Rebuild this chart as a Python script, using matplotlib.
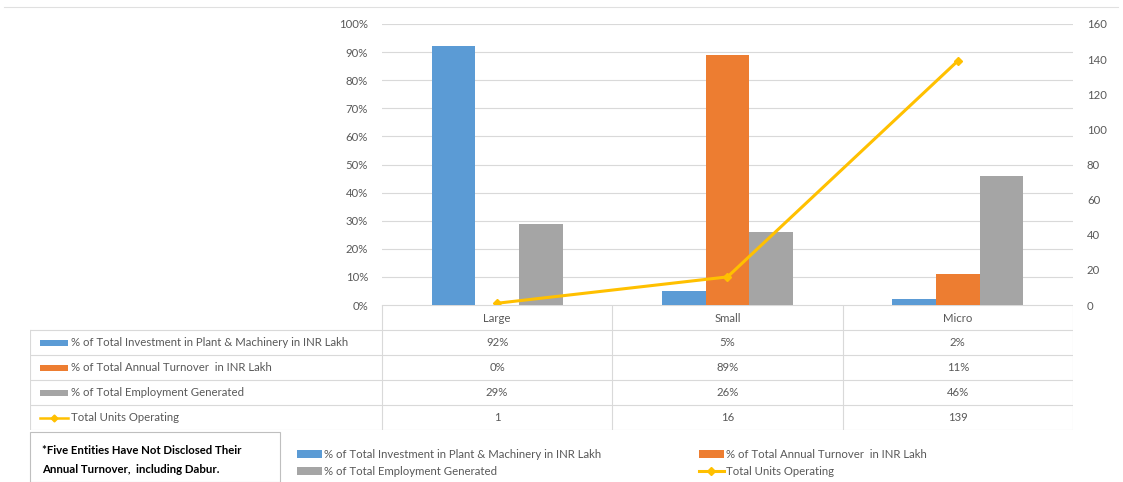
import numpy as np
import matplotlib
matplotlib.use("Agg")
import matplotlib.pyplot as plt
from matplotlib.lines import Line2D
from matplotlib.patches import Rectangle

plt.rcParams['font.family'] = ['Lato', 'DejaVu Sans']

categories = ['Large', 'Small', 'Micro']
investment = [92, 5, 2]
turnover = [0, 89, 11]
employment = [29, 26, 46]
units = [1, 16, 139]

series_names = ['% of Total Investment in Plant & Machinery in INR Lakh',
                '% of Total Annual Turnover  in INR Lakh',
                '% of Total Employment Generated',
                'Total Units Operating']
colors = ['#5B9BD5', '#ED7D31', '#A5A5A5', '#FFC000']
note = "*Five Entities Have Not Disclosed Their\nAnnual Turnover,  including Dabur."

W, H = 1123, 482
fig = plt.figure(figsize=(W / 100, H / 100), dpi=100)

def fx(px):
    return px / W

def fy(py):
    return 1 - py / H

# plot area in pixels
L, R, T, B = 382, 1073, 24, 305
ax = fig.add_axes([fx(L), fy(B), fx(R - L), fy(T) - fy(B)])
x = np.arange(len(categories))
w = 0.19
txt = '#595959'
fs = 8.2

for i, vals in enumerate([investment, turnover, employment]):
    ax.bar(x + (i - 1) * w, vals, w, color=colors[i], zorder=3, label=series_names[i])
ax.set_xlim(-0.5, 2.5)
ax.set_ylim(0, 100)
ax.set_yticks(np.arange(0, 101, 10))
ax.set_yticklabels([f'{v}%' for v in range(0, 101, 10)])
ax.set_xticks([])
ax.grid(axis='y', color='#D9D9D9', lw=0.8, zorder=0)
for s in ax.spines.values():
    s.set_visible(False)
ax.tick_params(axis='y', length=0, labelsize=fs, labelcolor=txt, pad=10)

ax2 = ax.twinx()
ax2.plot(x, units, color=colors[3], lw=2.2, marker='D', ms=4, zorder=5, label=series_names[3])
ax2.set_ylim(0, 160)
ax2.set_yticks(np.arange(0, 161, 20))
for s in ax2.spines.values():
    s.set_visible(False)
ax2.tick_params(axis='y', length=0, labelsize=fs, labelcolor=txt, pad=10)
ax.set_zorder(ax2.get_zorder() - 1)
ax2.patch.set_visible(False)
ax.patch.set_visible(True)

# data table
TL, TB = 30, 430
unit = (R - L) / 3
tab = fig.add_axes([fx(TL), fy(TB), fx(R - TL), fy(B) - fy(TB)])
x0 = -0.5 - (L - TL) / unit
tab.set_xlim(x0, 2.5)
tab.set_ylim(5, 0)
tab.axis('off')
gc = '#D9D9D9'
for r in range(1, 6):
    tab.plot([x0, 2.5], [r, r], color=gc, lw=0.8)
tab.plot([-0.5, 2.5], [0, 0], color=gc, lw=0.8)
tab.plot([x0, x0], [1, 5], color=gc, lw=0.8)
for c in [-0.5, 0.5, 1.5, 2.5]:
    tab.plot([c, c], [0, 5], color=gc, lw=0.8)
for j, cat in enumerate(categories):
    tab.text(j, 0.55, cat, ha='center', va='center', fontsize=fs, color=txt)
rows = [investment, turnover, employment]
for i, vals in enumerate(rows):
    for j, v in enumerate(vals):
        tab.text(j, i + 1.5, f'{v}%', ha='center', va='center', fontsize=fs, color=txt)
for j, v in enumerate(units):
    tab.text(j, 4.5, f'{v}', ha='center', va='center', fontsize=fs, color=txt)
kx = x0 + 10 / unit
kw = 28 / unit
for i in range(3):
    tab.add_patch(Rectangle((kx, i + 1.38), kw, 0.24, color=colors[i], lw=0))
    tab.text(kx + kw + 3 / unit, i + 1.5, series_names[i], ha='left', va='center',
             fontsize=fs, color=txt)
tab.plot([kx, kx + kw], [4.5, 4.5], color=colors[3], lw=1.8)
tab.plot([kx + kw / 2], [4.5], marker='D', ms=3.5, color=colors[3])
tab.text(kx + kw + 3 / unit, 4.5, series_names[3], ha='left', va='center', fontsize=fs, color=txt)

# note box
fig.patches.append(Rectangle((fx(30), 0), fx(250), fy(432), transform=fig.transFigure,
                             fill=False, ec='#BFBFBF', lw=0.8))
fig.text(fx(42), fy(460), note, ha='left', va='center', fontsize=fs, color='black',
         fontweight='bold', linespacing=1.8)

# legend
h1, l1 = ax.get_legend_handles_labels()
h2, l2 = ax2.get_legend_handles_labels()
handles = [h1[0], h1[2], h1[1], h2[0]]
labels = [l1[0], l1[2], l1[1], l2[0]]
fig.legend(handles, labels, ncol=2, loc='upper left', bbox_to_anchor=(fx(292), fy(444)),
           frameon=False, fontsize=fs, labelcolor=txt, columnspacing=8.6,
           handlelength=2.2, handletextpad=0.2, labelspacing=0.55, borderaxespad=0)

# chart border
fig.add_artist(Line2D([fx(4), fx(1118)], [fy(7), fy(7)], transform=fig.transFigure,
                      color='#E0E0E0', lw=0.8))

fig.savefig('out.png', dpi=100)
